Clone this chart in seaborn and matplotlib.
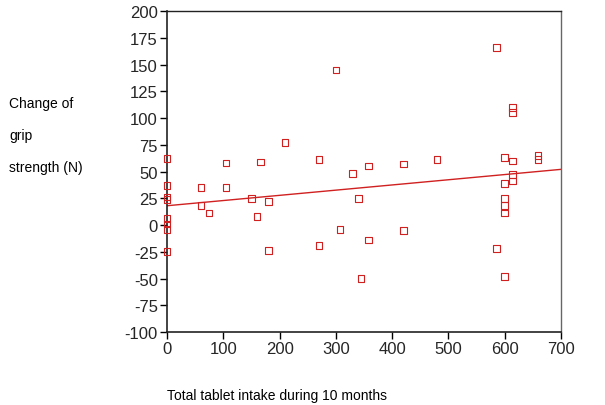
import matplotlib
matplotlib.use("Agg")
import matplotlib.pyplot as plt
import seaborn as sns
import pandas as pd

# Data
tablet_intake = [0, 0, 0, 0, 0, 0, 0, 0,
                 60, 60, 75, 105, 105, 150, 160, 166, 180, 180, 210,
                 270, 270, 300, 307, 330, 340, 345, 358, 358,
                 420, 420, 480, 585, 585,
                 600, 600, 600, 600, 600, 600,
                 614, 614, 614, 614, 614, 659, 659]
grip_change = [62, 37, 26, 24, 6, 1, -4, -25,
               35, 18, 11, 35, 58, 25, 8, 59, 22, -24, 77,
               61, -19, 145, -4, 48, 25, -50, 55, -14,
               57, -5, 61, 166, -22,
               63, 39, 25, 18, 11, -48,
               110, 105, 60, 47, 41, 65, 61]
fit_x = [0, 700]
fit_y = [18, 52]
x_ticks = [0, 100, 200, 300, 400, 500, 600, 700]
y_ticks = [200, 175, 150, 125, 100, 75, 50, 25, 0, -25, -50, -75, -100]
ylabel_lines = ["Change of", "grip", "strength (N)"]
xlabel_text = "Total tablet intake during 10 months"

df = pd.DataFrame({"x": tablet_intake, "y": grip_change})
fit_df = pd.DataFrame({"x": fit_x, "y": fit_y})

sns.set_style("ticks")
plt.rcParams["font.family"] = ["Liberation Sans", "DejaVu Sans"]

red = "#d02020"
fig = plt.figure(figsize=(6.05, 4.06), dpi=100)
ax = fig.add_axes([167/605, 1-333/406, (561-167)/605, (333-12)/406])

sns.lineplot(data=fit_df, x="x", y="y", ax=ax, color=red, linewidth=1.0)
sns.scatterplot(data=df, x="x", y="y", ax=ax, marker="s", s=22,
                facecolor="none", edgecolor=red, linewidth=0.8, zorder=3,
                clip_on=False)

ax.set_xlim(0, 700)
ax.set_ylim(-100, 200)
ax.set_xticks(x_ticks)
ax.set_yticks(y_ticks)
ax.set_xticklabels([str(t) for t in x_ticks], fontsize=12)
ax.set_yticklabels([str(t) for t in y_ticks], fontsize=12)
ax.tick_params(axis="both", direction="out", length=5, width=1, color="black", pad=1.5)
ax.set_xlabel("")
ax.set_ylabel("")
for side in ["left", "bottom"]:
    ax.spines[side].set_color("#222222")
    ax.spines[side].set_linewidth(1.2)
for side in ["top", "right"]:
    ax.spines[side].set_visible(True)
    ax.spines[side].set_linewidth(1.0)
ax.spines["top"].set_color("#222222")
ax.spines["right"].set_color("#666666")

ys = [1-108/406, 1-140/406, 1-172.5/406]
for txt, yy in zip(ylabel_lines, ys):
    fig.text(9/605, yy, txt, fontsize=10, va="baseline", ha="left", color="black")
fig.text(167/605, 1-400/406, xlabel_text, fontsize=10, va="baseline", ha="left", color="black")

fig.savefig("out.png", dpi=100)
